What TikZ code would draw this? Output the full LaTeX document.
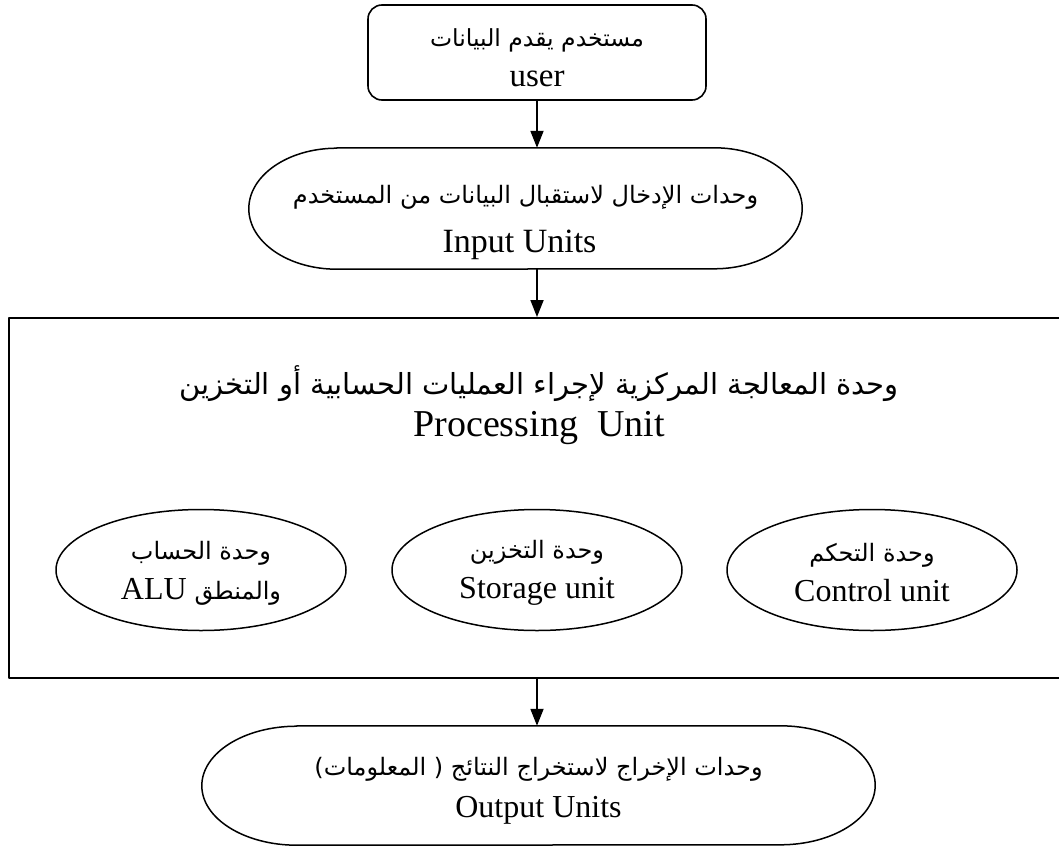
\documentclass[tikz,border=0pt]{standalone}
\usepackage{fontspec}
\setmainfont{Liberation Serif}
\newfontfamily\arabicfont[Script=Arabic]{DejaVu Sans}
\TeXXeTstate=1
\usetikzlibrary{arrows.meta,shapes.geometric}
\newcommand{\artxt}[1]{{\arabicfont\beginR #1\endR}}
\newcommand{\arsz}[1]{\fontsize{#1}{#1}\selectfont}
\begin{document}
\begin{tikzpicture}[x=1pt,y=-1pt,line join=round,
  conn/.style={line width=1.8pt,-{Triangle[length=17pt,width=13pt]}},
  txt/.style={align=center,inner sep=0pt,font=\fontsize{33}{40}\selectfont},
  unitell/.style={ellipse,draw,line width=1.5pt,minimum width=290pt,minimum height=121pt,inner sep=0pt},
  ellitxt/.style={align=center,inner sep=0pt,font=\fontsize{32}{40}\selectfont}]
\useasboundingbox (0,0) rectangle (1059,848);

% user box
\node[draw,rounded corners=14pt,line width=1.6pt,minimum width=338pt,minimum height=95pt] (user) at (537,52.5) {};
\node[txt] (usertxt) at ([yshift=-5pt]user.center)
  {{\arsz{23.5}\artxt{مستخدم يقدم البيانات}}\\user};

% input units
\node[minimum width=553pt,minimum height=121pt,inner sep=0pt] (input) at (525.5,208.5) {};
\draw[line width=1.5pt] ([xshift=88pt]input.north west) -- ([xshift=-88pt]input.north east)
  arc[start angle=90,end angle=-90,x radius=88pt,y radius=60.5pt]
  -- ([xshift=88pt]input.south west)
  arc[start angle=270,end angle=90,x radius=88pt,y radius=60.5pt] -- cycle;
\node[txt,font=\fontsize{34}{40}\selectfont] (inputtxt) at ([yshift=-14pt]input.center)
  {{\arsz{24}\artxt{وحدات الإدخال لاستقبال البيانات من المستخدم}}\\[9pt]Input Units\hspace*{12pt}};

% processing box
\node[draw,line width=2pt,minimum width=1056pt,minimum height=360pt,inner sep=0pt] (proc) at (537,498) {};
\node[align=center,inner sep=0pt,font=\fontsize{38}{42}\selectfont] (proctitle) at (539,405)
  {{\arsz{29}\artxt{وحدة المعالجة المركزية لإجراء العمليات الحسابية أو التخزين}}\\Processing~ Unit};

% inner units
\node[unitell] (alu) at (201,570) {};
\node[unitell] (stor) at (537,570) {};
\node[unitell] (ctrl) at (872,570) {};
\node[ellitxt] (alutxt) at ([yshift=-3pt]alu.center)
  {{\arsz{24}\artxt{وحدة الحساب}}\\ALU {\arsz{24}\artxt{والمنطق}}};
\node[ellitxt] (stortxt) at ([yshift=-3pt]stor.center)
  {{\arsz{24}\artxt{وحدة التخزين}}\\Storage unit};
\node[ellitxt] (ctrltxt) at ([yshift=-3pt]ctrl.center)
  {{\arsz{24}\artxt{وحدة التحكم}}\\Control unit};

% output units
\node[minimum width=673pt,minimum height=119pt,inner sep=0pt] (output) at (538.5,785.5) {};
\draw[line width=1.5pt] ([xshift=95pt]output.north west) -- ([xshift=-95pt]output.north east)
  arc[start angle=90,end angle=-90,x radius=95pt,y radius=59.5pt]
  -- ([xshift=95pt]output.south west)
  arc[start angle=270,end angle=90,x radius=95pt,y radius=59.5pt] -- cycle;
\node[txt,font=\fontsize{32}{40}\selectfont] (outputtxt) at ([yshift=-5pt]output.center)
  {{\arsz{24}\artxt{وحدات الإخراج لاستخراج النتائج ( المعلومات)}}\\[2pt]Output Units};

% connectors
\draw[conn] (user.south) -- (user.south |- input.north);
\draw[conn] (input.south -| proc.north) -- (proc.north);
\draw[conn] (proc.south) -- (proc.south |- output.north);
\end{tikzpicture}
\end{document}
